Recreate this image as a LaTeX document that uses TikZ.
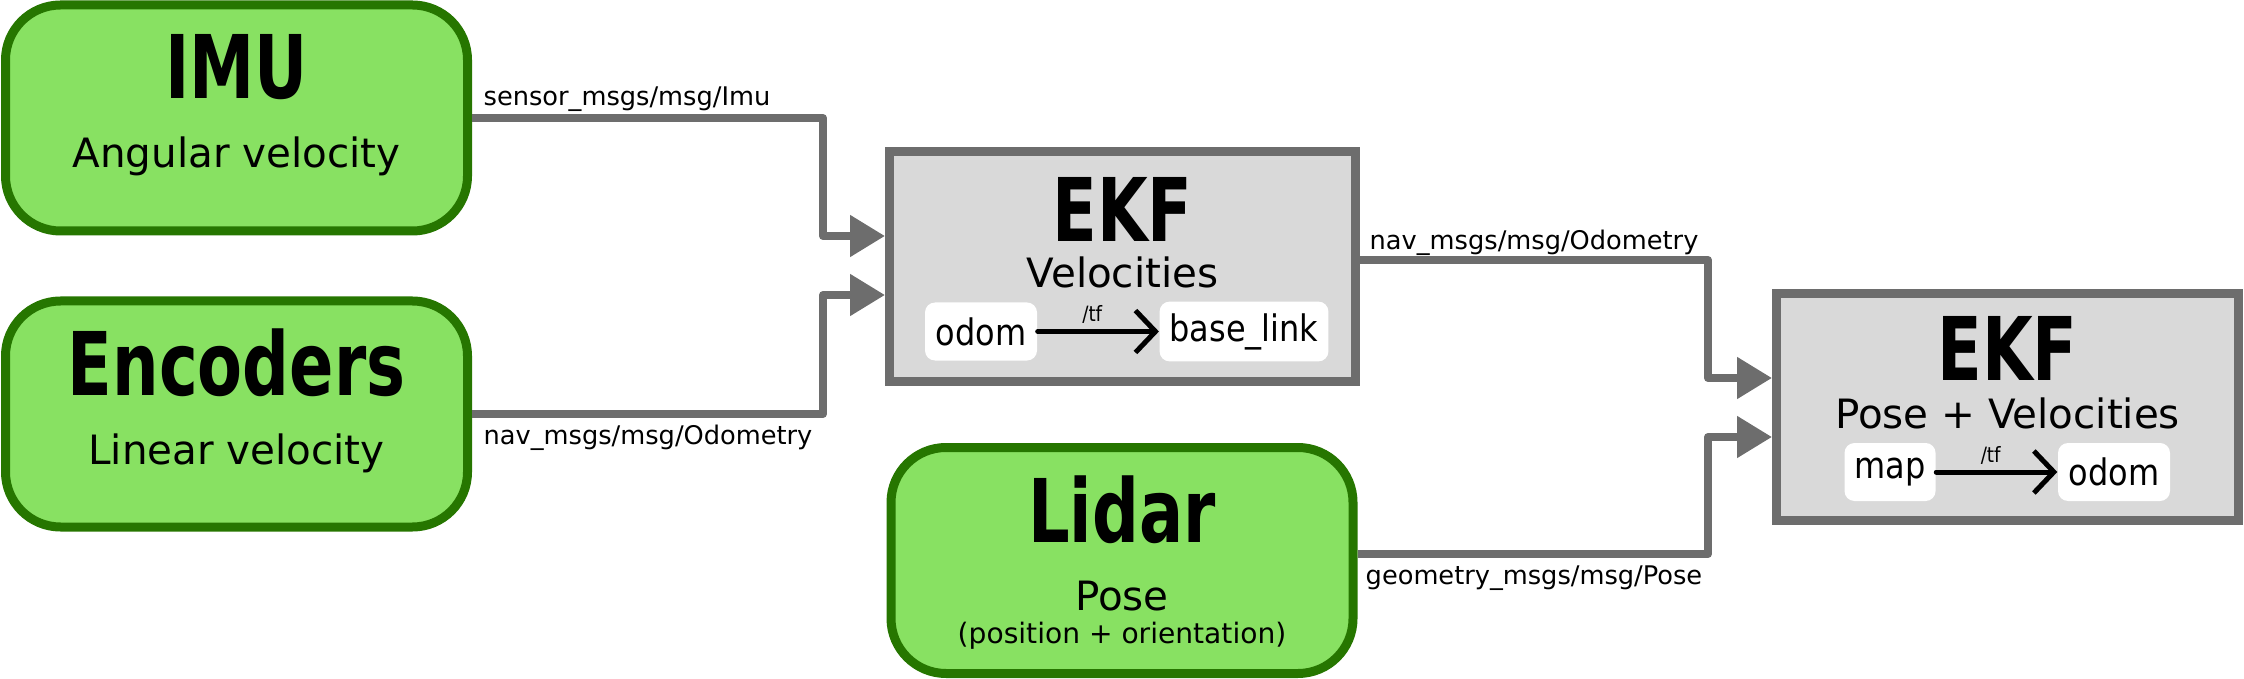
\documentclass[tikz,border=0pt]{standalone}
\usepackage{fontspec}
\setmainfont{DejaVu Sans}
\newfontfamily\titlefont[FakeStretch=0.745]{DejaVu Sans}
\newfontfamily\framefont[FakeStretch=0.875]{DejaVu Sans}
\usetikzlibrary{arrows.meta}

\definecolor{sensorfill}{RGB}{136,225,98}
\definecolor{sensorline}{RGB}{38,118,0}
\definecolor{ekffill}{RGB}{217,217,217}
\definecolor{ekfline}{RGB}{109,109,109}

\begin{document}
\begin{tikzpicture}[
    sensor/.style={draw=sensorline, fill=sensorfill, line width=0.09cm, rounded corners=0.55cm, minimum width=4.62cm, minimum height=2.26cm},
    ekf/.style={draw=ekfline, fill=ekffill, line width=0.09cm, minimum width=4.62cm, minimum height=2.27cm},
    tfbox/.style={fill=white, rounded corners=0.1cm, minimum height=0.58cm, inner xsep=0.1cm, font=\framefont\fontsize{10.4}{12}\selectfont},
    heading/.style={anchor=base, inner sep=0pt, font=\titlefont\bfseries\fontsize{25}{30}\selectfont},
    subtext/.style={anchor=base, inner sep=0pt, font=\fontsize{11.5}{14}\selectfont},
    topic/.style={anchor=base west, inner sep=0pt, font=\fontsize{7.3}{9}\selectfont},
    wire/.style={draw=ekfline, line width=0.08cm, line join=round, -{Triangle[length=0.35cm, width=0.40cm]}},
    tfarrow/.style={line width=0.05cm, line cap=round, -{Straight Barb[length=0.2cm, width=0.42cm]}}
]
    \useasboundingbox (0,0) rectangle (22.44,-6.79);

    % Sensor boxes
    \node[sensor] (imu) at (2.365,-1.18) {};
    \node[sensor] (enc) at (2.365,-4.14) {};
    \node[sensor] (lidar) at (11.22,-5.605) {};

    \node[heading] (imuT) at (2.365,-0.99) {IMU};
    \node[subtext] (imuS) at (2.365,-1.68) {Angular velocity};
    \node[heading] (encT) at (2.365,-3.95) {Encoders};
    \node[subtext] (encS) at (2.365,-4.64) {Linear velocity};
    \node[heading] (lidarT) at (11.22,-5.42) {Lidar};
    \node[subtext] (lidarS) at (11.22,-6.10) {Pose};
    \node[subtext, font=\fontsize{8}{10}\selectfont] (lidarN) at (11.22,-6.43) {(position + orientation)};

    % Filters
    \node[ekf, minimum width=4.66cm, minimum height=2.30cm] (ekfodom) at (11.225,-2.665) {};
    \node[ekf] (ekfmap) at (20.075,-4.07) {};

    \node[heading] (odomT) at (11.225,-2.42) {EKF};
    \node[subtext] (odomS) at (11.225,-2.88) {Velocities};
    \node[heading] (mapT) at (20.075,-3.80) {EKF};
    \node[subtext] (mapS) at (20.075,-4.28) {Pose + Velocities};

    % Frames and transforms
    \node[tfbox, minimum width=1.12cm] (odomA) at (9.81,-3.315) {odom};
    \node[tfbox, minimum width=1.66cm] (baseA) at (12.44,-3.315) {base\_link};
    \draw[tfarrow] (odomA) -- node[above, pos=0.45, inner sep=1.5pt, font=\framefont\fontsize{6}{7}\selectfont] (tfA) {/tf} (baseA);

    \node[tfbox, minimum width=0.90cm] (mapB) at (18.90,-4.72) {map};
    \node[tfbox, minimum width=1.12cm] (odomB) at (21.14,-4.72) {odom};
    \draw[tfarrow] (mapB) -- node[above, pos=0.45, inner sep=1.5pt, font=\framefont\fontsize{6}{7}\selectfont] (tfB) {/tf} (odomB);

    % Connectors
    \coordinate (busA) at (8.23,0);
    \coordinate (busB) at (17.08,0);
    \coordinate (odomOut) at ([yshift=0.065cm]ekfodom.east);
    \coordinate (poseOut) at ([yshift=0.065cm]lidar.east);

    \draw[wire] (imu.east) -- (imu.east -| busA) |- ([yshift=0.305cm]ekfodom.west);
    \draw[wire] (enc.east) -- (enc.east -| busA) |- ([yshift=-0.285cm]ekfodom.west);
    \draw[wire] (odomOut) -- (odomOut -| busB) |- ([yshift=0.29cm]ekfmap.west);
    \draw[wire] (poseOut) -- (poseOut -| busB) |- ([yshift=-0.30cm]ekfmap.west);

    \node[topic] (imuTopic) at (4.83,-1.06) {sensor\_msgs/msg/Imu};
    \node[topic] (encTopic) at (4.83,-4.44) {nav\_msgs/msg/Odometry};
    \node[topic] (odomTopic) at (13.69,-2.50) {nav\_msgs/msg/Odometry};
    \node[topic] (poseTopic) at (13.65,-5.84) {geometry\_msgs/msg/Pose};
\end{tikzpicture}
\end{document}
